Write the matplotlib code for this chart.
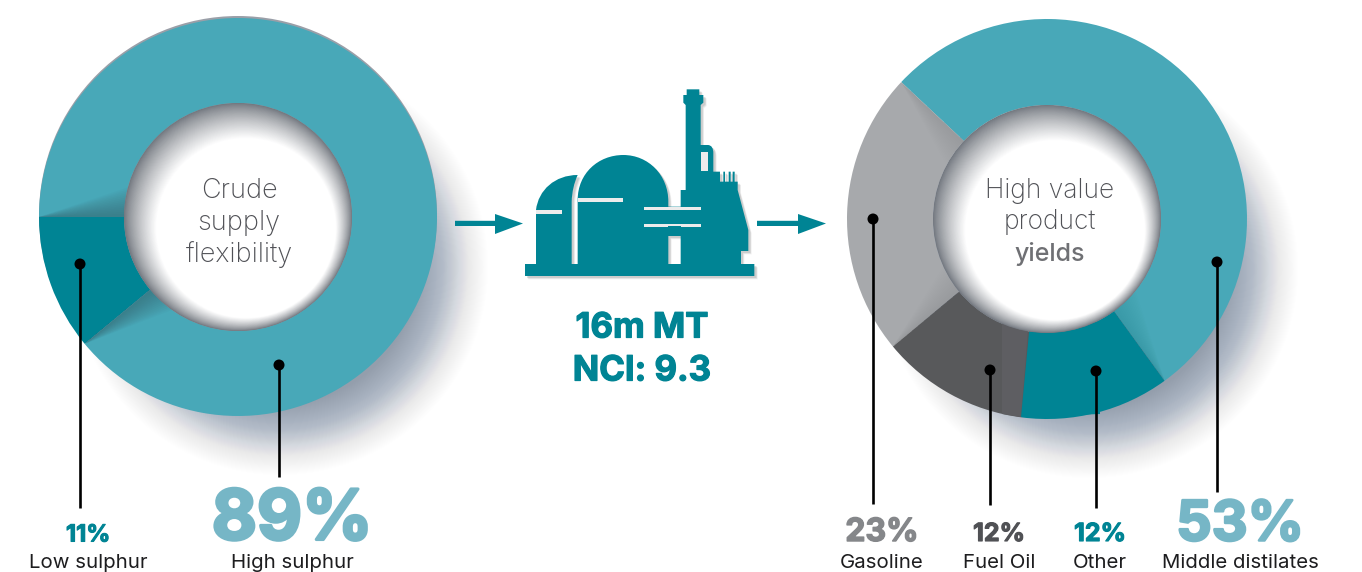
import numpy as np
import matplotlib
matplotlib.use("Agg")
import matplotlib.pyplot as plt
from matplotlib.patches import Circle, Polygon, Rectangle, PathPatch
from matplotlib.path import Path
import matplotlib.patheffects as pe

# ---- data ----
crude_labels = ["Low sulphur", "High sulphur"]
crude_values = [11, 89]
yield_labels = ["Middle distilates", "Gasoline", "Fuel Oil", "Other"]
yield_values = [53, 23, 12, 12]
centre_crude = ["Crude", "supply", "flexibility"]
centre_yield = ["High value", "product", "yields"]
refinery_text = ["16m MT", "NCI: 9.3"]

TEAL = "#48A8B8"; DEEP = "#008494"; GREY = "#A7A9AC"; DARK = "#58595B"; PALE = "#76B6C6"
W, H = 1362, 572
plt.rcParams['font.family'] = ['Inter', 'DejaVu Sans']
fig = plt.figure(figsize=(W/100, H/100), dpi=100, facecolor="white")
ax = fig.add_axes([0, 0, 1, 1])
Y = lambda p: H - p


def shadow(cx, cy, R):
    n = 80
    radii = np.linspace(R + 12, R - 62, n)
    alphas = np.linspace(.001, .03, n)
    for r, a in zip(radii, alphas):
        ax.add_patch(Circle((cx + 42, Y(cy + 50)), r, fc="#7f8a99", ec="none", alpha=a, zorder=1))


def hole(cx, cy, R):
    n = 44
    for i, t in enumerate(np.linspace(0, 1, n)):
        c0 = np.array([.45, .47, .50]); g = c0 + (1 - c0) * t ** .8
        ax.add_patch(Circle((cx + 8 * t, Y(cy + 11 * t)), R + (90 - R) * t, fc=g, ec="none", zorder=6))


def seam(cx, cy, Ro, Ri, ang, side, col, alpha=.05):
    """soft shading that runs along a slice boundary"""
    a = np.radians(ang)
    p0 = np.array([cx + Ro * np.cos(a), Y(cy) + Ro * np.sin(a)])
    for s in np.linspace(1, .1, 14):
        b = a + side * np.radians(15) * s
        ring = [p0, [cx + Ri * np.cos(a), Y(cy) + Ri * np.sin(a)], [cx + Ri * np.cos(b), Y(cy) + Ri * np.sin(b)]]
        ax.add_patch(Polygon(ring, fc=col, ec="none", alpha=alpha, zorder=4))


def leader(x, y0, y1):
    ax.plot([x, x], [Y(y0), Y(y1)], color="black", lw=1.9, zorder=8, solid_capstyle="butt")
    ax.add_patch(Circle((x, Y(y0)), 5.5, fc="black", ec="none", zorder=9))


def label(x, y, pct, name, size, col):
    ax.text(x, Y(y), pct, ha="center", va="center_baseline", fontsize=size, color=col, weight="bold", zorder=9,
            path_effects=[pe.withStroke(linewidth=size * .045, foreground=col)])
    ax.text(x, Y(561), name, ha="center", va="center_baseline", fontsize=14.7, color="#1d1d1f", zorder=9)


# ---- left donut ----
Lx, Ly, Ro, Ri = 238, 217, 199, 114
shadow(Lx, Ly, Ro)
ax.add_patch(Circle((Lx, Y(Ly - 2)), Ro, fc="#9a9fa8", ec="none", zorder=2))
ax.pie(crude_values, colors=[DEEP, TEAL], startangle=180, counterclock=True, radius=Ro, center=(Lx, Y(Ly)),
       wedgeprops=dict(width=Ro - Ri, ec="none", zorder=3, antialiased=True))
seam(Lx, Ly, Ro, Ri, 180, -1, "#33555f", .04)
seam(Lx, Ly, Ro, Ri, 180 + 360 * crude_values[0] / 100, 1, "#33555f", .04)
hole(Lx, Ly, Ri)

# ---- right donut ----
Rx, Ry, Ro2, Ri2 = 1047, 219, 200, 114
shadow(Rx, Ry, Ro2)
ax.pie(yield_values, colors=[TEAL, GREY, DARK, DEEP], startangle=306, counterclock=True, radius=Ro2,
       center=(Rx, Y(Ry)), wedgeprops=dict(width=Ro2 - Ri2, ec="none", zorder=3))
seam(Rx, Ry, Ro2, Ri2, 306 + 360 * .53, 1, "#55585c", .008)
seam(Rx, Ry, Ro2, Ri2, 306 + 360 * .76, -1, "#55585c", .008)
seam(Rx, Ry, Ro2, Ri2, 306, 1, "#33555f", .012)
# pale strip along the fuel oil / other boundary
ax.add_patch(Polygon([[1002, Y(305)], [1030, Y(305)], [1021, Y(417)], [1002, Y(414)]], fc="#5e5e62", ec="none", zorder=4))
ax.add_patch(Polygon([[1030, Y(322)], [1100, Y(322)], [1100, Y(414)], [1021, Y(417)]], fc=DEEP, ec="none", zorder=4))
hole(Rx, Ry, Ri2)

# ---- centre text ----
for t, y in zip(centre_crude, (188, 220, 252)):
    ax.text(239, Y(y), t, ha="center", va="center_baseline", fontsize=19.5, color="#505156", zorder=10, weight="light")
for t, y, w, c, s in zip(centre_yield, (188, 219, 251), ("light", "light", "medium"), ("#505156", "#505156", "#6f7074"), (19, 19, 18)):
    ax.text(1050, Y(y), t, ha="center", va="center_baseline", fontsize=s, color=c, zorder=10, weight=w)

# ---- leaders and labels ----
leader(80, 264, 508); leader(279, 365, 477)
leader(873, 219, 504); leader(990, 370, 505); leader(1096, 371, 508); leader(1217, 262, 492)
label(88, 533, f"{crude_values[0]}%", crude_labels[0], 17, DEEP)
label(292, 514, f"{crude_values[1]}%", crude_labels[1], 50, PALE)
label(882, 529, f"{yield_values[1]}%", yield_labels[1], 23, "#85878A")
label(999, 532, f"{yield_values[2]}%", yield_labels[2], 18, "#505155")
label(1100, 532, f"{yield_values[3]}%", yield_labels[3], 18, DEEP)
label(1240, 520, f"{yield_values[0]}%", yield_labels[0], 40, PALE)

# ---- arrows ----
for x0, x1, x2 in ((455, 495, 523), (757, 798, 826)):
    ax.add_patch(Polygon([[x0, Y(220.8)], [x1, Y(220.8)], [x1, Y(214)], [x2, Y(223.5)], [x1, Y(234)], [x1, Y(226)], [x0, Y(226)]],
                         fc=DEEP, ec="none", zorder=5))

# ---- refinery icon (outline read in zoomed units) ----
zx = lambda v: 440 + v / 3
zy = lambda v: Y(70 + v / 3)


def icon_path(off=0):
    M, L, C, Z = Path.MOVETO, Path.LINETO, Path.CURVE4, Path.CLOSEPOLY
    cmd = []; pts = []
    def add(code, *p):
        for q in p:
            cmd.append(code); pts.append((zx(q[0] + off), zy(q[1] + off)))
    # base
    add(M, (255, 582)); add(L, (943, 582), (943, 618), (255, 618)); add(Z, (255, 582))
    # left tank
    add(M, (288, 582)); add(L, (288, 420)); add(C, (295, 360), (345, 315), (413, 315))
    add(C, (402, 340), (396, 365), (395, 395)); add(L, (395, 582), (288, 582)); add(Z, (288, 582))
    # main body
    add(M, (413, 582)); add(L, (413, 390)); add(C, (413, 310), (475, 255), (550, 255))
    add(C, (625, 255), (685, 315), (685, 395)); add(L, (685, 410), (722, 410), (722, 360), (737, 360), (737, 105),
        (730, 98), (730, 75), (740, 75), (740, 58), (778, 58), (778, 75), (790, 75), (790, 98), (782, 105), (782, 225), (803, 225))
    add(C, (815, 225), (820, 235), (820, 250)); add(L, (820, 305), (840, 305), (840, 335), (850, 335), (850, 305), (855, 305),
        (855, 335), (866, 335), (866, 305), (872, 305), (872, 335), (878, 335), (878, 305), (884, 305), (884, 335), (893, 335),
        (893, 360), (925, 480), (925, 543), (903, 543), (903, 582), (722, 582), (722, 498), (685, 498), (685, 582), (413, 582))
    add(Z, (413, 582))
    return Path(pts, cmd)


for off, a in ((10, .10), (8, .14), (6, .18)):
    ax.add_patch(PathPatch(icon_path(off), fc="#777777", ec="none", alpha=a, zorder=3))
ax.add_patch(PathPatch(icon_path(), fc=DEEP, ec="none", zorder=4))
for x0, x1, y0, y1 in ((288, 366, 421, 431), (413, 549, 385, 395), (612, 783, 411, 420), (612, 685, 462, 470),
                       (722, 783, 462, 470), (685, 722, 462, 468), (783, 803, 245, 303)):
    ax.add_patch(Rectangle((zx(x0), zy(y1)), (x1 - x0) / 3, (y1 - y0) / 3, fc="#ececec", ec="none", zorder=5))

for t, y in zip(refinery_text, (325, 368)):
    ax.text(642, Y(y), t, ha="center", va="center_baseline", fontsize=25, color=DEEP, weight="bold", zorder=9,
            path_effects=[pe.withStroke(linewidth=.9, foreground=DEEP)])

ax.set_xlim(0, W); ax.set_ylim(0, H); ax.axis("off")
fig.savefig("out.png", dpi=100, facecolor="white")
